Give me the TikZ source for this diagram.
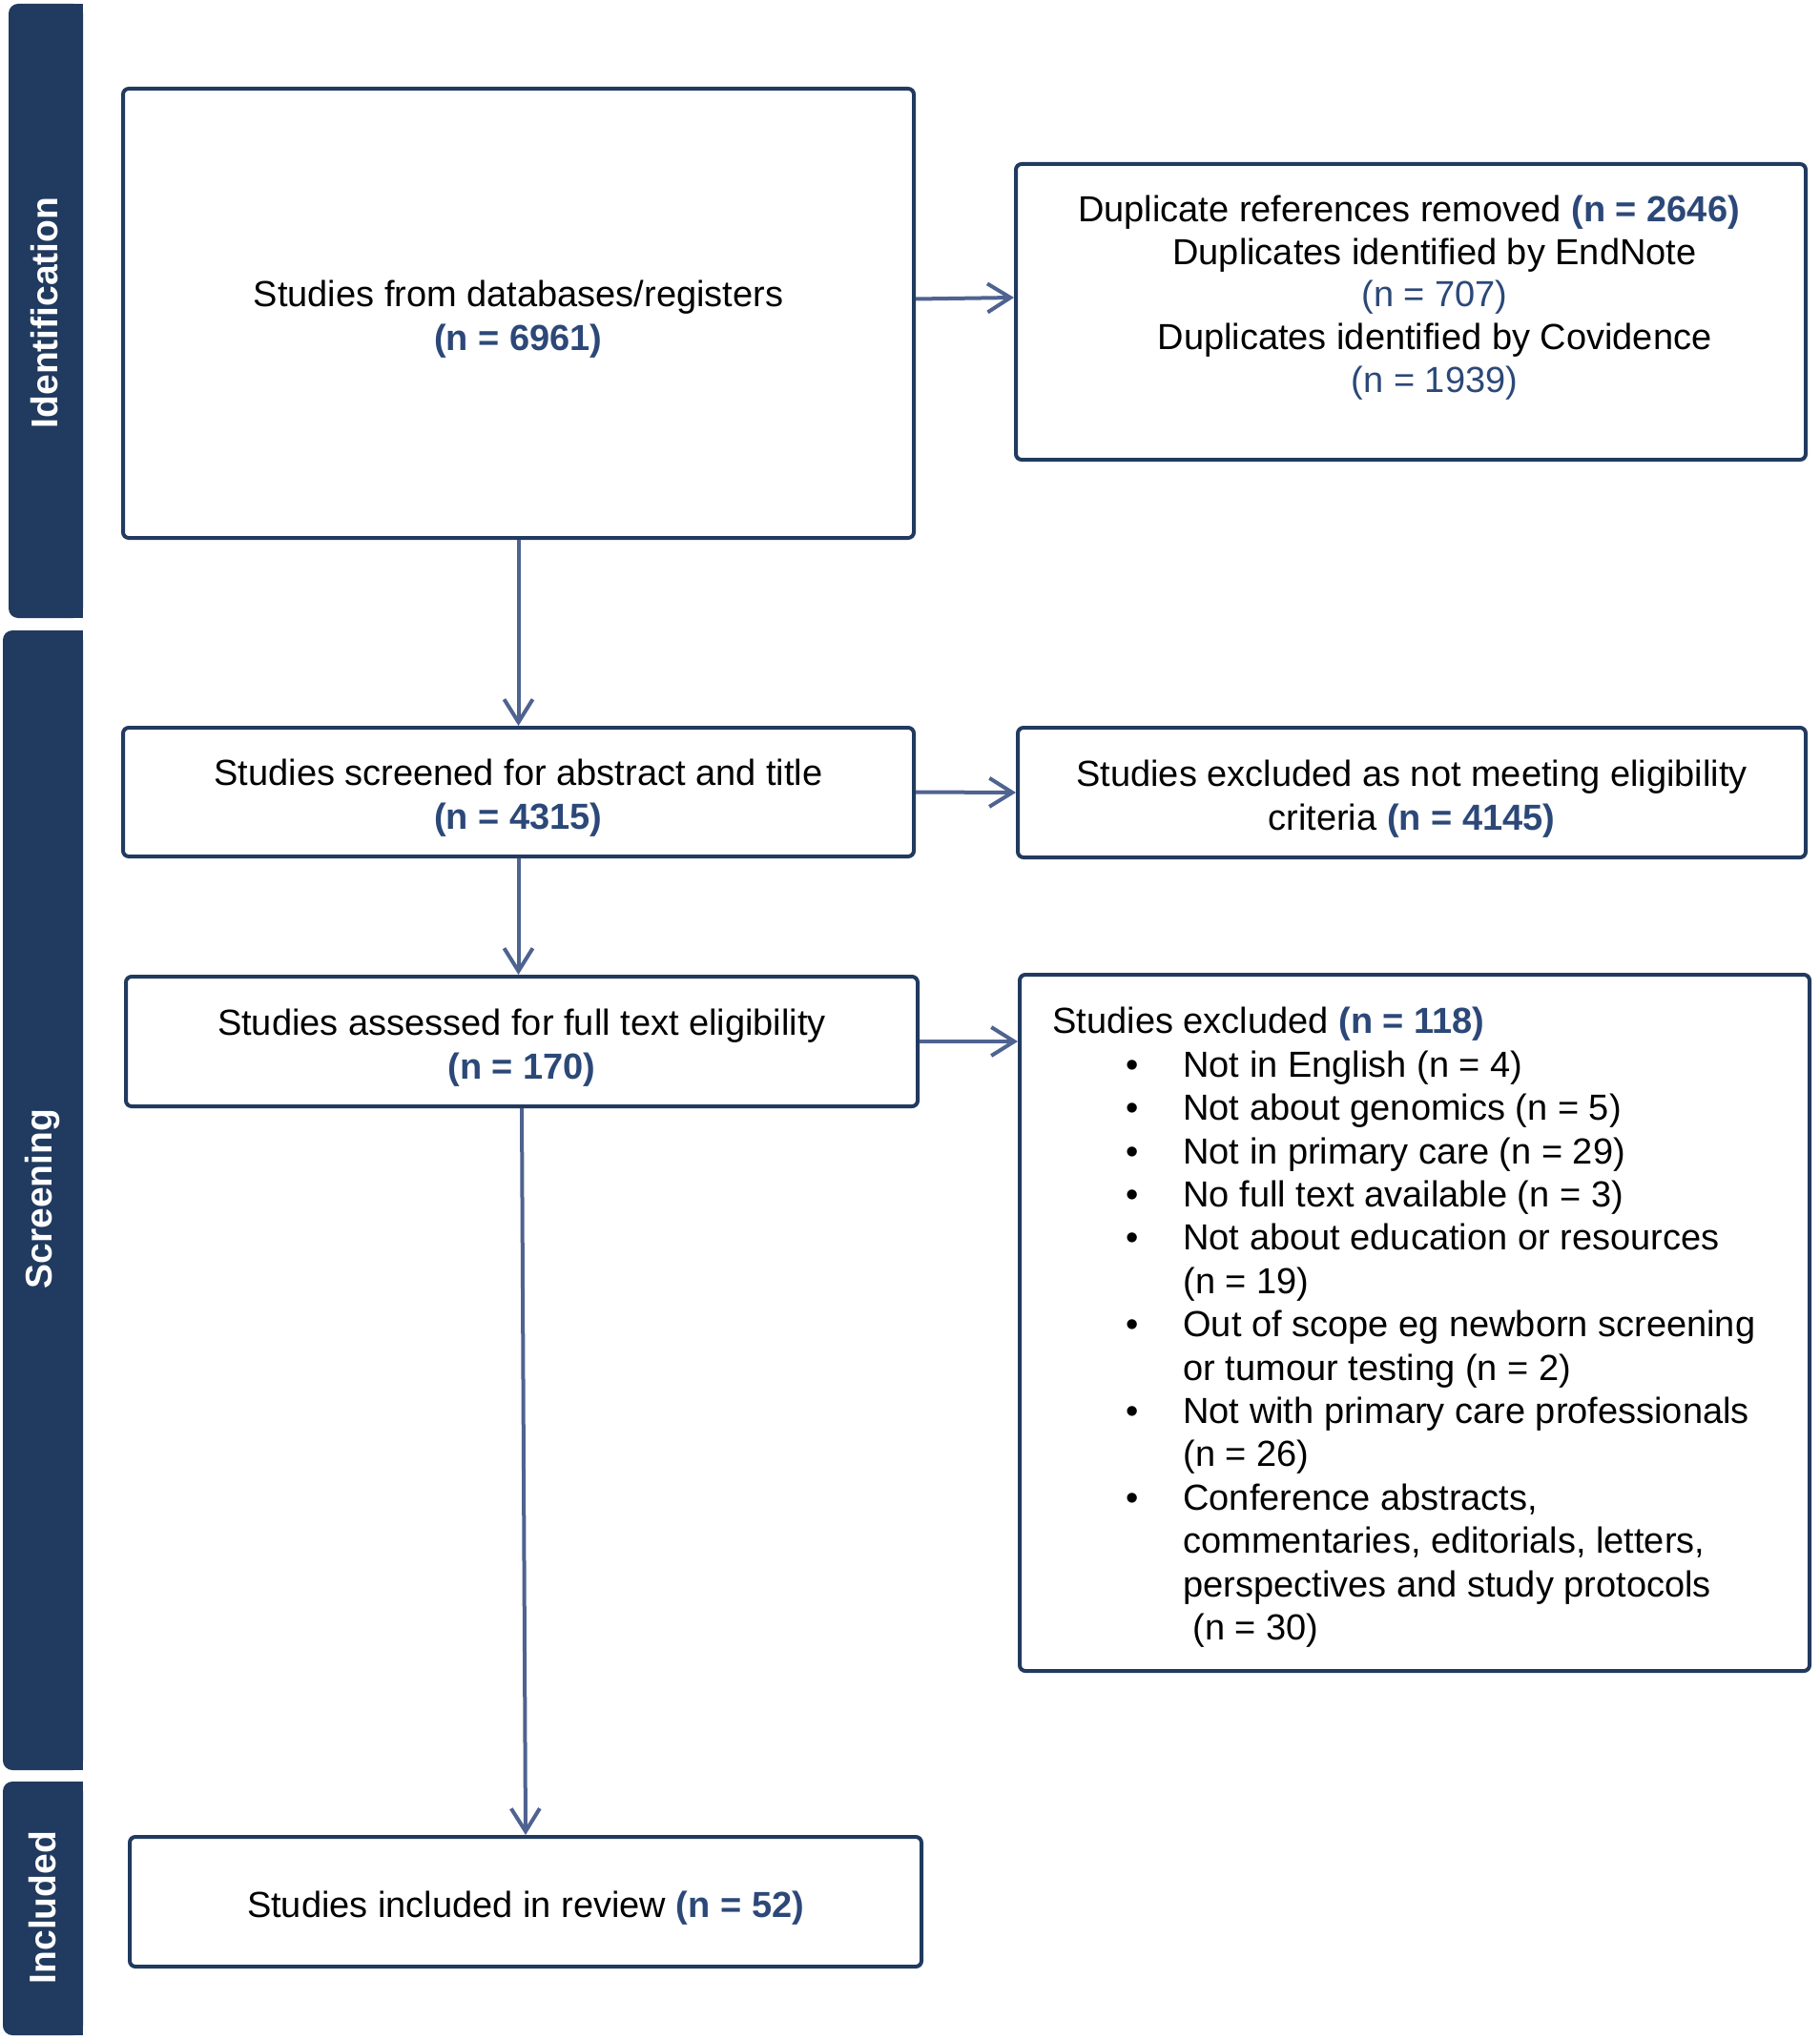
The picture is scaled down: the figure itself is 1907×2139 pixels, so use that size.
\documentclass[tikz,border=0pt]{standalone}
\usepackage{fontspec}
\setmainfont{Liberation Sans}
\usetikzlibrary{arrows.meta}
\definecolor{navy}{HTML}{213A5F}
\definecolor{numblue}{HTML}{2C4878}
\definecolor{arrowc}{HTML}{4F6390}
\newcommand{\nb}[1]{\textcolor{numblue}{\bfseries #1}}
\newcommand{\nr}[1]{\textcolor{numblue}{#1}}
\newcommand{\myitem}{\hspace*{38.5pt}\makebox[30pt][l]{\textbullet}}
\newcommand{\mycont}{\hspace*{68.5pt}}
\newcommand{\lowerstrut}{\rule{0pt}{20pt}}
\begin{document}
\begin{tikzpicture}[x=0.5pt,y=-0.5pt,
  box/.style={draw=navy, line width=2pt, rounded corners=3pt, align=center, inner sep=0pt,
    font=\fontsize{19}{23}\selectfont},
  txt/.style={align=center, inner sep=0pt, font=\fontsize{19}{22.3}\selectfont},
  conn/.style={draw=arrowc, line width=2pt, -{Straight Barb[length=12pt,width=15pt,line width=2pt]}},
  phasebar/.style={fill=navy},
  phaselabel/.style={rotate=90, text=white, inner sep=0pt, font=\bfseries\fontsize{19.5}{23}\selectfont}
]
\useasboundingbox (0,0) rectangle (1907,2139);

% phase bars
\fill[phasebar, rounded corners=5pt] (9,4) rectangle (87,648);
\fill[phasebar] (50,4) rectangle (87,648);
\fill[phasebar, rounded corners=5pt] (3,661) rectangle (87,1856);
\fill[phasebar] (50,661) rectangle (87,1856);
\fill[phasebar, rounded corners=5pt] (3,1868) rectangle (87,2134);
\fill[phasebar] (50,1868) rectangle (87,2134);
\node[phaselabel] (lid) at (47,328) {Identification};
\node[phaselabel] (lscr) at (45,1257) {Screening};
\node[phaselabel] (linc) at (45,2000) {Included};

% boxes
\node[box, minimum width=414.5pt, minimum height=235.5pt] (b1) at (543.5,328.5)
  {\lowerstrut Studies from databases/registers\\\nb{(n = 6961)}};
\node[box, minimum width=414pt, minimum height=155pt] (b2) at (1479,327) {};
\node[txt] (b2t) at (1477,312)
  {Duplicate references removed \nb{(n = 2646)}\\
   \hspace*{27pt}Duplicates identified by EndNote\\
   \hspace*{27pt}\nr{(n = 707)}\\
   \hspace*{27pt}Duplicates identified by Covidence\\
   \hspace*{27pt}\nr{(n = 1939)}};
\node[box, minimum width=414.5pt, minimum height=67.5pt] (b3) at (543.5,830.5)
  {\lowerstrut Studies screened for abstract and title\\\nb{(n = 4315)}};
\node[box, minimum width=413pt, minimum height=68pt] (b4) at (1480,831)
  {\lowerstrut Studies excluded as not meeting eligibility\\criteria \nb{(n = 4145)}};
\node[box, minimum width=415pt, minimum height=68pt] (b5) at (547,1092)
  {\lowerstrut Studies assessed for full text eligibility\\\nb{(n = 170)}};
\node[box, minimum width=414pt, minimum height=365pt] (b6) at (1483,1387) {};
\node[anchor=north west, align=left, inner sep=0pt, font=\fontsize{19}{22.7}\selectfont] (b6t) at (1103,1056)
  {Studies excluded \nb{(n = 118)}\\
   \myitem Not in English (n = 4)\\
   \myitem Not about genomics (n = 5)\\
   \myitem Not in primary care (n = 29)\\
   \myitem No full text available (n = 3)\\
   \myitem Not about education or resources\\
   \mycont (n = 19)\\
   \myitem Out of scope eg newborn screening\\
   \mycont or tumour testing (n = 2)\\
   \myitem Not with primary care professionals\\
   \mycont (n = 26)\\
   \myitem Conference abstracts,\\
   \mycont commentaries, editorials, letters,\\
   \mycont perspectives and study protocols\\
   \mycont\hspace*{5pt}(n = 30)};
\node[box, minimum width=415pt, minimum height=68pt] (b7) at (551,1994)
  {\lowerstrut Studies included in review \nb{(n = 52)}};

% connectors
\draw[conn] ([yshift=7.5pt]b1.east) -- ([yshift=7.5pt]b2.west);
\draw[conn] (b1.south) -- (b3.north);
\draw[conn] (b3.east) -- (b4.west);
\draw[conn] (b3.south) -- (b3.south |- b5.north);
\draw[conn] (b5.east) -- (b5.east -| b6.west);
\draw[conn] (b5.south) -- (b7.north);
\end{tikzpicture}
\end{document}
